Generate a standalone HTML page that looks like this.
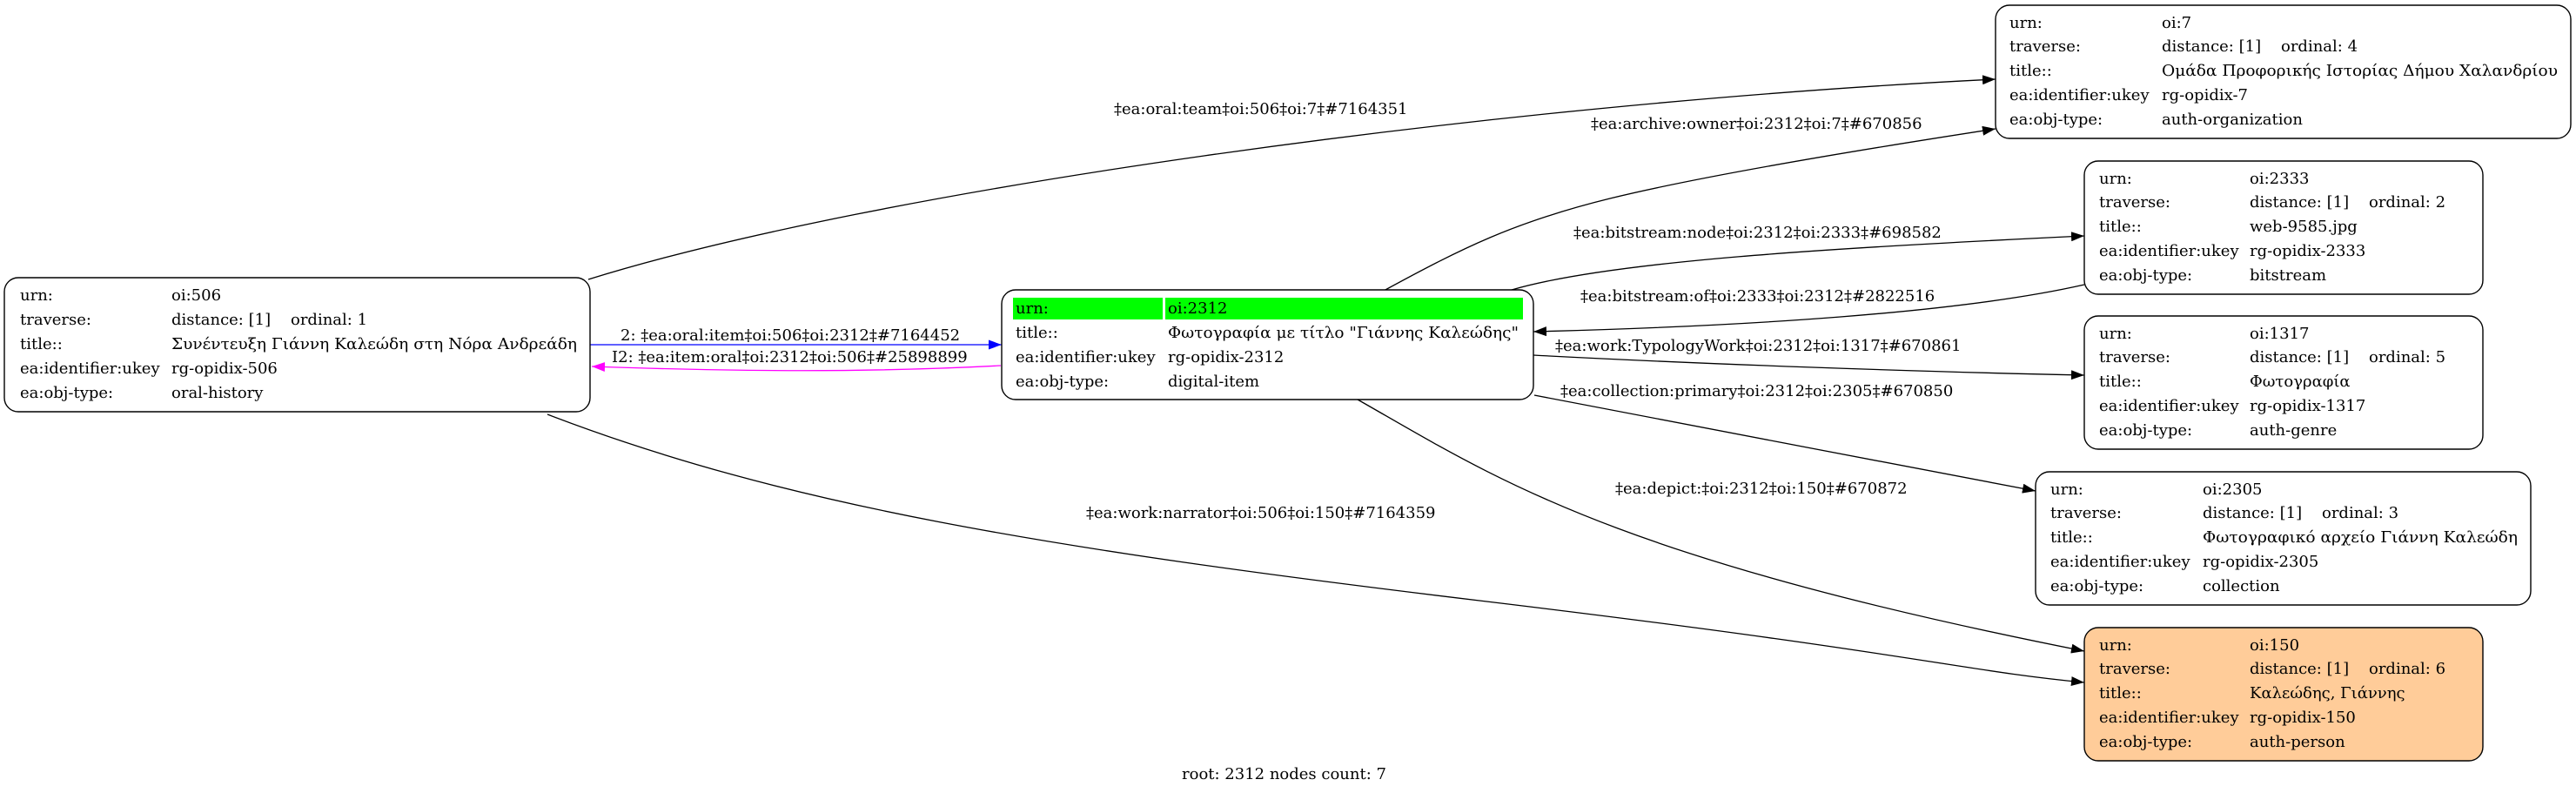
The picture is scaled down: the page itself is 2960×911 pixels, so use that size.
<!DOCTYPE html>
<html><head><meta charset="utf-8"><style>
html,body{margin:0;padding:0;background:#fff;}
svg{display:block;}
text{font-family:"DejaVu Serif","Liberation Serif",serif;font-size:18px;fill:#000;}
.box{fill:#fff;stroke:#000;stroke-width:1.4;}
.e{fill:none;stroke:#000;stroke-width:1.3;}
</style></head><body>
<svg width="2960" height="911" viewBox="0 0 2960 911" xmlns="http://www.w3.org/2000/svg">
<defs>
<marker id="ab" markerUnits="userSpaceOnUse" markerWidth="16" markerHeight="12" refX="15" refY="6" orient="auto"><path d="M0,0.5 L15,6 L0,11.5 z" fill="#000"/></marker>
<marker id="ablue" markerUnits="userSpaceOnUse" markerWidth="16" markerHeight="12" refX="15" refY="6" orient="auto"><path d="M0,0.5 L15,6 L0,11.5 z" fill="#0000ff"/></marker>
<marker id="amag" markerUnits="userSpaceOnUse" markerWidth="16" markerHeight="12" refX="15" refY="6" orient="auto"><path d="M0,0.5 L15,6 L0,11.5 z" fill="#ff00ff"/></marker>
</defs>

<!-- edges -->
<path class="e" d="M676,321 C1000,220 1700,120 2293,91" marker-end="url(#ab)"/>
<path class="e" d="M1590,334 C1680,285 1740,255 1850,228 S2150,170 2293,148" marker-end="url(#ab)"/>
<path class="e" d="M1737,333 C1850,300 2100,285 2395,271" marker-end="url(#ab)"/>
<path class="e" d="M2395,327 C2250,360 2000,375 1762,381" marker-end="url(#ab)"/>
<path class="e" d="M1762,408 C1950,418 2200,427 2395,431" marker-end="url(#ab)"/>
<path class="e" d="M1763,454 C1950,490 2150,528 2339,564" marker-end="url(#ab)"/>
<path class="e" d="M1560,459 C1720,550 1850,640 2395,748" marker-end="url(#ab)"/>
<path class="e" d="M629,476 C900,580 1200,630 1700,690 S2250,770 2395,784" marker-end="url(#ab)"/>
<path d="M678,396 L1151,396" fill="none" stroke="#0000ff" stroke-width="1.3" marker-end="url(#ablue)"/>
<path d="M1150,420 C1000,428 850,427 680,421" fill="none" stroke="#ff00ff" stroke-width="1.3" marker-end="url(#amag)"/>

<!-- edge labels -->
<text x="1280" y="131">‡ea:oral:team‡oi:506‡oi:7‡#7164351</text>
<text x="1828" y="148">‡ea:archive:owner‡oi:2312‡oi:7‡#670856</text>
<text x="1808" y="273">‡ea:bitstream:node‡oi:2312‡oi:2333‡#698582</text>
<text x="1816" y="346">‡ea:bitstream:of‡oi:2333‡oi:2312‡#2822516</text>
<text x="1787" y="403">‡ea:work:TypologyWork‡oi:2312‡oi:1317‡#670861</text>
<text x="1793" y="455">‡ea:collection:primary‡oi:2312‡oi:2305‡#670850</text>
<text x="1856" y="567">‡ea:depict:‡oi:2312‡oi:150‡#670872</text>
<text x="1248" y="595">‡ea:work:narrator‡oi:506‡oi:150‡#7164359</text>
<text x="713" y="391">2: ‡ea:oral:item‡oi:506‡oi:2312‡#7164452</text>
<text x="703" y="416">I2: ‡ea:item:oral‡oi:2312‡oi:506‡#25898899</text>
<text x="1358" y="895">root: 2312 nodes count: 7</text>

<!-- node 506 -->
<rect class="box" x="5" y="319" width="673" height="154" rx="16"/>
<text x="23" y="345">urn:</text><text x="197" y="345">oi:506</text>
<text x="23" y="373">traverse:</text><text x="197" y="373">distance: [1] &#160;&#160;&#160;ordinal: 1</text>
<text x="23" y="401">title::</text><text x="197" y="401" textLength="466" lengthAdjust="spacingAndGlyphs">Συνέντευξη Γιάννη Καλεώδη στη Νόρα Ανδρεάδη</text>
<text x="23" y="429">ea:identifier:ukey</text><text x="197" y="429">rg-opidix-506</text>
<text x="23" y="457">ea:obj-type:</text><text x="197" y="457">oral-history</text>

<!-- node 2312 -->
<rect class="box" x="1151" y="333" width="611" height="126" rx="16"/>
<rect x="1164" y="342" width="172" height="25" fill="#00ff00"/>
<rect x="1339" y="342" width="411" height="25" fill="#00ff00"/>
<text x="1167" y="360">urn:</text><text x="1342" y="360">oi:2312</text>
<text x="1167" y="388">title::</text><text x="1342" y="388" textLength="403" lengthAdjust="spacingAndGlyphs">Φωτογραφία με τίτλο "Γιάννης Καλεώδης"</text>
<text x="1167" y="416">ea:identifier:ukey</text><text x="1342" y="416">rg-opidix-2312</text>
<text x="1167" y="444">ea:obj-type:</text><text x="1342" y="444">digital-item</text>

<!-- node 7 -->
<rect class="box" x="2293" y="6" width="661" height="153" rx="16"/>
<text x="2309" y="32">urn:</text><text x="2484" y="32">oi:7</text>
<text x="2309" y="59">traverse:</text><text x="2484" y="59">distance: [1] &#160;&#160;&#160;ordinal: 4</text>
<text x="2309" y="87">title::</text><text x="2484" y="87" textLength="455" lengthAdjust="spacingAndGlyphs">Ομάδα Προφορικής Ιστορίας Δήμου Χαλανδρίου</text>
<text x="2309" y="115">ea:identifier:ukey</text><text x="2484" y="115">rg-opidix-7</text>
<text x="2309" y="143">ea:obj-type:</text><text x="2484" y="143">auth-organization</text>

<!-- node 2333 -->
<rect class="box" x="2395" y="185" width="458" height="153" rx="16"/>
<text x="2412" y="211">urn:</text><text x="2585" y="211">oi:2333</text>
<text x="2412" y="238">traverse:</text><text x="2585" y="238">distance: [1] &#160;&#160;&#160;ordinal: 2</text>
<text x="2412" y="266">title::</text><text x="2585" y="266">web-9585.jpg</text>
<text x="2412" y="294">ea:identifier:ukey</text><text x="2585" y="294">rg-opidix-2333</text>
<text x="2412" y="322">ea:obj-type:</text><text x="2585" y="322">bitstream</text>

<!-- node 1317 -->
<rect class="box" x="2395" y="363" width="458" height="153" rx="16"/>
<text x="2412" y="389">urn:</text><text x="2585" y="389">oi:1317</text>
<text x="2412" y="416">traverse:</text><text x="2585" y="416">distance: [1] &#160;&#160;&#160;ordinal: 5</text>
<text x="2412" y="444">title::</text><text x="2585" y="444">Φωτογραφία</text>
<text x="2412" y="472">ea:identifier:ukey</text><text x="2585" y="472">rg-opidix-1317</text>
<text x="2412" y="500">ea:obj-type:</text><text x="2585" y="500">auth-genre</text>

<!-- node 2305 -->
<rect class="box" x="2339" y="542" width="569" height="153" rx="16"/>
<text x="2356" y="568">urn:</text><text x="2531" y="568">oi:2305</text>
<text x="2356" y="595">traverse:</text><text x="2531" y="595">distance: [1] &#160;&#160;&#160;ordinal: 3</text>
<text x="2356" y="623">title::</text><text x="2531" y="623" textLength="362" lengthAdjust="spacingAndGlyphs">Φωτογραφικό αρχείο Γιάννη Καλεώδη</text>
<text x="2356" y="651">ea:identifier:ukey</text><text x="2531" y="651">rg-opidix-2305</text>
<text x="2356" y="679">ea:obj-type:</text><text x="2531" y="679">collection</text>

<!-- node 150 -->
<rect class="box" x="2395" y="721" width="458" height="153" rx="16" style="fill:#ffcc99"/>
<text x="2412" y="747">urn:</text><text x="2585" y="747">oi:150</text>
<text x="2412" y="774">traverse:</text><text x="2585" y="774">distance: [1] &#160;&#160;&#160;ordinal: 6</text>
<text x="2412" y="802">title::</text><text x="2585" y="802">Καλεώδης, Γιάννης</text>
<text x="2412" y="830">ea:identifier:ukey</text><text x="2585" y="830">rg-opidix-150</text>
<text x="2412" y="858">ea:obj-type:</text><text x="2585" y="858">auth-person</text>
</svg>
</body></html>
